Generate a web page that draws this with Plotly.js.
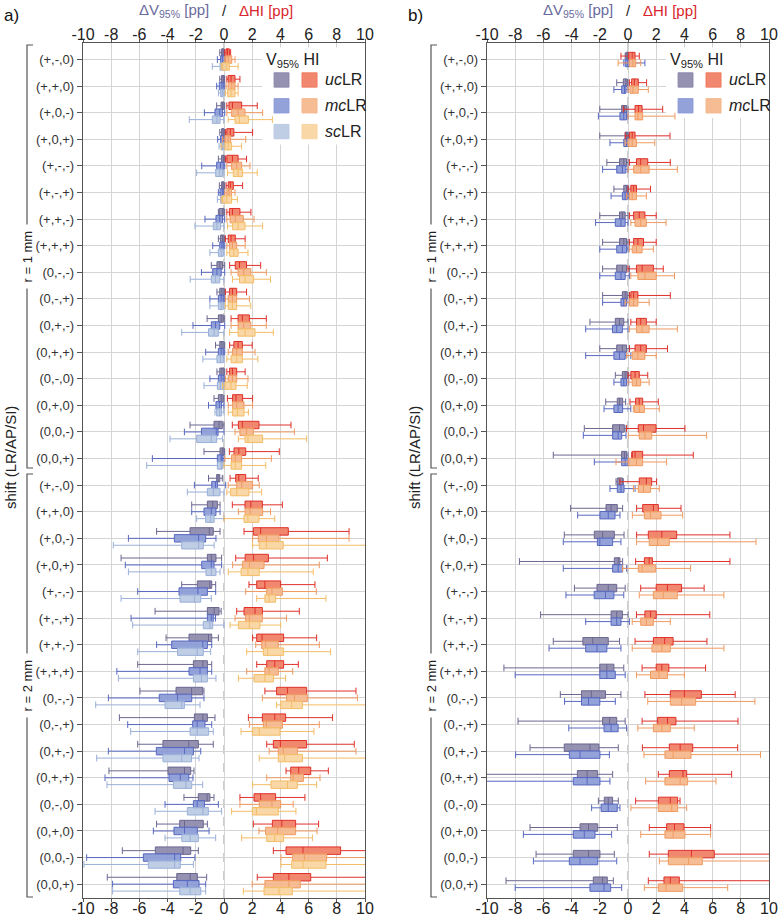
<!DOCTYPE html>
<html>
<head>
<meta charset="utf-8">
<script src="https://cdn.plot.ly/plotly-3.0.1.min.js"></script>
<style>
  body { margin: 0; background: #fff; }
  #chart { width: 778px; height: 917px; }
</style>
</head>
<body>
<div id="chart"></div>
<script>
// shift labels (LR/AP/SI), same 16 for r = 1 mm and r = 2 mm
var shiftsOne = ['(+,-,0)','(+,+,0)','(+,0,-)','(+,0,+)','(+,-,-)','(+,-,+)','(+,+,-)','(+,+,+)',
                 '(0,-,-)','(0,-,+)','(0,+,-)','(0,+,+)','(0,-,0)','(0,+,0)','(0,0,-)','(0,0,+)'];
var shifts = shiftsOne.concat(shiftsOne);
var xTicks = [-10, -8, -6, -4, -2, 0, 2, 4, 6, 8, 10];

// each row: [lower whisker, q1, median, q3, upper whisker]
// panel a) dV95 [pp]
var aVuc = [[-0.3,-0.17,-0.05,0,0.05],[-0.3,-0.17,-0.05,0.02,0.05],[-0.52,-0.21,-0.1,0,0.05],[-0.3,-0.17,-0.05,0,0.05],
  [-0.4,-0.17,-0.05,0.02,0.1],[-0.33,-0.17,-0.05,0,0.05],[-0.4,-0.33,-0.1,0,0.05],[-0.4,-0.25,-0.1,0,0.05],
  [-0.9,-0.5,-0.3,-0.1,0.05],[-0.5,-0.3,-0.15,0,0.05],[-1.2,-0.4,-0.2,-0.05,0.05],[-0.6,-0.3,-0.15,0,0.05],
  [-0.5,-0.3,-0.15,0,0.05],[-0.71,-0.4,-0.2,-0.05,0],[-2.41,-0.71,-0.35,-0.12,0],[-1.42,-0.28,-0.12,0,0.05],
  [-1.1,-0.52,-0.42,-0.3,-0.12],[-2.29,-1.18,-0.8,-0.47,-0.28],[-4.78,-2.41,-1.04,-0.76,-0.28],[-7.3,-1.18,-0.9,-0.57,-0.17],
  [-3.0,-1.89,-1.0,-0.87,-0.59],[-4.89,-1.18,-0.7,-0.35,-0.2],[-4.11,-2.48,-1.1,-0.87,-0.4],[-6.12,-2.17,-1.5,-1.18,-0.87],
  [-5.96,-3.4,-2.3,-1.51,-1.42],[-7.42,-2.1,-1.5,-1.18,-0.64],[-6.12,-4.33,-2.5,-1.82,-0.76],[-8.16,-3.97,-2.8,-2.36,-2.13],
  [-2.84,-1.82,-1.2,-1.0,-0.71],[-4.78,-3.14,-2.8,-1.47,-1.18],[-7.21,-4.87,-2.9,-2.36,-1.82],[-8.28,-3.35,-2.4,-1.89,-1.23]];
var aVmc = [[-0.47,-0.24,-0.1,0.05,0.1],[-0.52,-0.33,-0.15,-0.05,0.05],[-1.39,-0.64,-0.3,-0.1,0.05],[-0.45,-0.24,-0.1,-0.05,0.05],
  [-1.58,-0.52,-0.25,-0.05,0.05],[-0.4,-0.28,-0.1,-0.05,0.05],[-1.35,-0.57,-0.3,-0.1,0.05],[-0.8,-0.3,-0.15,-0.05,0.05],
  [-1.6,-0.8,-0.5,-0.2,0.05],[-1.0,-0.4,-0.2,-0.05,0.05],[-2.2,-0.9,-0.6,-0.3,0.05],[-1.3,-0.4,-0.2,-0.05,0.05],
  [-1.0,-0.4,-0.2,-0.05,0.05],[-1.1,-0.57,-0.33,-0.17,0],[-2.81,-1.6,-0.55,-0.42,0],[-5.08,-0.47,-0.2,-0.12,0],
  [-2.1,-0.87,-0.6,-0.47,0.12],[-2.29,-1.42,-0.9,-0.57,-0.28],[-6.78,-3.52,-1.8,-1.3,-0.57],[-7.0,-1.58,-0.9,-0.71,-0.17],
  [-6.12,-3.19,-1.85,-1.18,-0.59],[-6.59,-1.18,-0.9,-0.76,-0.6],[-4.78,-3.71,-1.5,-1.18,-0.87],[-7.6,-2.48,-1.7,-1.18,-0.87],
  [-8.2,-4.59,-3.3,-2.29,-1.42],[-6.83,-2.22,-1.9,-1.35,-0.87],[-8.2,-4.8,-2.8,-2.17,-1.65],[-8.44,-3.9,-3.1,-2.5,-2.2],
  [-4.18,-2.17,-1.9,-1.39,-0.4],[-5.01,-3.55,-2.8,-1.89,-1.06],[-9.74,-5.72,-3.5,-3.07,-2.06],[-7.9,-3.59,-2.6,-1.77,-1.3]];
var aVsc = [[-0.83,-0.28,-0.1,0,0.1],[-0.4,-0.24,-0.1,-0.05,0.05],[-2.46,-0.83,-0.5,-0.28,0],[-0.35,-0.2,-0.1,0,0.05],
  [-1.94,-0.59,-0.3,-0.1,0],[-0.47,-0.24,-0.1,0,0.05],[-2.06,-0.76,-0.5,-0.24,0],[-1.0,-0.4,-0.2,-0.05,0],
  [-2.4,-0.9,-0.6,-0.3,0],[-1.0,-0.4,-0.2,-0.05,0],[-3.0,-1.1,-0.7,-0.4,0],[-1.5,-0.5,-0.25,-0.05,0],
  [-1.42,-0.47,-0.25,-0.05,0],[-0.64,-0.52,-0.3,-0.17,0],[-3.83,-1.94,-0.9,-0.52,-0.1],[-5.48,-0.47,-0.2,-0.12,0],
  [-2.6,-1.18,-0.75,-0.28,0],[-1.94,-1.3,-0.95,-0.7,0],[-7.85,-3.0,-1.8,-1.47,-0.7],[-6.78,-1.28,-0.9,-0.57,-0.28],
  [-7.3,-3.12,-2.1,-1.65,-0.9],[-6.48,-1.47,-1.0,-0.8,0],[-6.12,-3.29,-1.9,-1.47,-0.95],[-7.49,-2.17,-1.6,-1.18,-0.57],
  [-9.1,-4.18,-3.0,-2.81,-1.7],[-6.62,-2.41,-1.9,-1.09,-0.76],[-9.03,-4.33,-3.0,-2.3,-1.77],[-8.3,-3.59,-2.7,-2.29,-1.51],
  [-4.89,-2.6,-1.5,-1.11,-0.17],[-4.18,-2.99,-2.4,-1.82,-0.59],[-9.93,-5.37,-3.5,-3.1,-2.17],[-7.9,-3.14,-2.4,-1.65,-1.3]];

// panel a) dHI [pp]
var aHuc = [[0.05,0.14,0.25,0.38,0.47],[0.2,0.3,0.5,0.78,1.13],[0.2,0.35,0.6,1.25,2.36],[0.1,0.2,0.45,0.7,2.03],
  [0.1,0.2,0.6,1.0,1.6],[0.15,0.3,0.45,0.66,1.32],[0.2,0.38,0.6,1.13,1.91],[0.1,0.3,0.5,0.8,1.5],
  [0.4,0.8,1.1,1.6,2.6],[0.1,0.4,0.6,0.9,1.6],[0.5,1.0,1.3,1.8,3.0],[0.4,0.7,1.0,1.3,2.0],
  [0.2,0.4,0.6,0.9,1.5],[0.24,0.61,0.85,1.32,2.03],[0.59,1.02,1.3,2.48,4.75],[0.38,0.71,1.05,1.54,3.92],
  [0.43,0.83,1.05,1.54,2.43],[0.59,1.49,1.9,2.72,4.14],[1.42,2.08,2.6,4.56,8.87],[0.83,1.5,2.1,3.15,7.33],
  [1.77,2.32,2.9,4.02,6.45],[0.9,1.42,2.2,2.72,5.34],[2.03,2.32,2.7,4.23,6.57],[2.32,3.03,3.6,4.23,5.27],
  [2.9,3.73,4.5,5.86,9.36],[1.73,2.72,3.6,4.37,7.7],[3.03,3.5,4.0,5.86,9.24],[4.4,4.73,5.3,6.15,7.4],
  [1.13,2.13,2.6,3.66,5.74],[2.08,3.43,4.1,5.08,6.71],[3.5,4.4,5.6,8.27,10.5],[2.36,3.5,4.6,6.15,10.5]];
var aHmc = [[0.05,0.12,0.3,0.55,0.78],[0.15,0.3,0.55,0.78,1.0],[0.2,0.54,1.0,1.49,2.74],[-0.1,0.07,0.3,0.47,1.54],
  [0.2,0.54,0.9,1.25,1.84],[0.05,0.2,0.35,0.54,0.78],[0.2,0.43,0.8,1.37,2.13],[0.2,0.4,0.6,0.9,1.5],
  [0.5,1.0,1.4,1.9,3.0],[0.1,0.3,0.6,0.9,1.8],[0.5,1.0,1.4,1.9,3.0],[0.3,0.6,0.9,1.3,2.2],
  [0.1,0.3,0.6,0.9,1.7],[0.3,0.61,0.9,1.42,2.03],[0.78,1.13,1.6,2.08,4.99],[0.07,0.54,0.8,1.25,3.36],
  [0.3,0.9,1.25,2.03,2.5],[1.02,1.5,1.85,2.74,3.3],[2.03,2.43,3.0,3.9,8.87],[0.61,1.32,1.8,2.84,6.76],
  [1.54,3.03,3.4,4.14,6.55],[0.78,1.54,1.8,2.72,4.44],[2.25,2.67,2.95,3.85,6.76],[1.61,2.9,3.2,3.85,4.87],
  [2.72,4.44,5.0,5.91,9.46],[1.8,2.79,3.0,4.14,6.76],[3.2,3.85,4.2,5.2,9.36],[3.03,4.73,4.9,5.63,6.81],
  [1.13,2.5,3.4,4.02,4.91],[2.48,2.95,3.8,5.08,6.6],[4.04,4.87,5.7,7.28,10.5],[2.0,2.9,4.6,5.41,10.5]];
var aHsc = [[-0.2,-0.1,0.2,0.38,1.0],[0.1,0.26,0.5,0.78,1.0],[0.3,0.78,1.1,1.73,3.43],[-0.2,0.07,0.3,0.54,1.25],
  [0.25,0.66,1.0,1.32,2.36],[-0.2,-0.1,0.2,0.54,0.95],[0.25,0.61,1.0,1.49,2.74],[0.2,0.4,0.7,1.0,1.7],
  [0.6,1.1,1.5,2.1,3.3],[0.1,0.3,0.6,0.9,1.9],[0.4,1.0,1.5,2.2,3.5],[0.2,0.5,0.9,1.3,2.4],
  [-0.1,0.07,0.5,0.85,1.65],[0.3,0.61,0.95,1.42,1.73],[1.02,1.49,1.7,2.74,5.86],[0,0.5,0.8,1.25,2.96],
  [0.2,0.47,0.9,1.77,2.67],[0,1.42,1.7,2.48,3.6],[2.03,2.5,3.0,4.2,10.5],[0.3,1.21,1.7,2.5,6.33],
  [2.32,2.9,3.2,3.66,7.23],[0.43,1.02,1.8,2.55,4.02],[1.61,2.79,3.1,4.23,7.56],[1.02,2.13,2.9,3.5,4.37],
  [3.73,4.02,4.8,5.56,10.5],[1.21,2.01,2.5,3.97,6.38],[2.5,3.85,4.3,5.56,10.5],[2.03,3.33,4.5,5.2,6.57],
  [0.54,2.01,2.3,3.85,5.1],[1.25,3.03,3.6,4.23,6.27],[4.04,4.8,5.6,7.23,10.5],[1.37,2.84,3.9,4.85,10.5]];

// panel b) dV95 [pp]
var bVuc = [[-0.2,-0.15,-0.05,0,0.05],[-0.8,-0.33,-0.15,-0.05,0],[-2.0,-0.45,-0.25,-0.1,0],[-2.0,-0.2,-0.1,0,0.05],
  [-1.5,-0.6,-0.3,-0.1,0],[-1.0,-0.3,-0.1,0,0.05],[-2.0,-0.6,-0.4,-0.2,0],[-1.8,-0.6,-0.3,-0.1,0],
  [-1.8,-0.8,-0.4,-0.1,0.1],[-1.8,-0.4,-0.2,-0.05,0.1],[-2.7,-0.9,-0.6,-0.3,0],[-2.0,-0.8,-0.4,-0.1,0.1],
  [-0.9,-0.4,-0.2,-0.05,0.05],[-1.58,-0.76,-0.6,-0.38,-0.17],[-3.1,-1.09,-0.6,-0.26,-0.14],[-5.3,-0.45,-0.25,-0.1,0],
  [-0.85,-0.76,-0.6,-0.38,-0.33],[-4.07,-1.56,-1.2,-0.76,-0.38],[-4.52,-2.39,-1.8,-0.97,-0.28],[-7.7,-0.97,-0.7,-0.57,-0.38],
  [-3.8,-2.2,-1.4,-0.8,-0.2],[-6.2,-1.2,-0.8,-0.4,0],[-5.3,-3.2,-2.5,-1.4,-0.6],[-8.8,-2.0,-1.5,-1.0,-0.3],
  [-4.8,-3.3,-2.6,-1.6,-0.5],[-7.8,-1.8,-1.3,-0.8,-0.2],[-6.95,-4.52,-2.7,-2.06,-0.69],[-10.5,-3.59,-2.9,-2.15,-1.09],
  [-2.1,-1.68,-1.4,-1.09,-0.69],[-6.95,-3.4,-2.8,-2.15,-0.76],[-6.52,-3.88,-2.8,-1.99,-0.97],[-8.65,-2.46,-1.8,-1.47,-1.04]];
var bVmc = [[-0.3,-0.2,-0.05,0.1,1.2],[-1.0,-0.45,-0.25,-0.14,0],[-2.1,-0.57,-0.3,-0.1,0],[-1.28,-0.3,-0.1,0.05,0.1],
  [-1.8,-0.8,-0.4,-0.15,0],[-1.2,-0.4,-0.2,-0.05,0.05],[-2.3,-0.9,-0.5,-0.2,0],[-2.0,-0.8,-0.4,-0.1,0],
  [-2.0,-0.9,-0.5,-0.2,0.1],[-1.8,-0.5,-0.3,-0.1,0.1],[-3.0,-1.1,-0.8,-0.4,0],[-3.0,-1.0,-0.6,-0.2,0.2],
  [-1.0,-0.5,-0.3,-0.1,0.05],[-1.7,-1.0,-0.7,-0.38,0.2],[-3.17,-1.09,-0.7,-0.45,-0.14],[-2.39,-0.45,-0.2,0.02,0.1],
  [-1.28,-0.76,-0.5,-0.28,0.5],[-3.57,-1.99,-1.4,-0.92,-0.57],[-4.59,-2.17,-2.0,-1.09,-0.5],[-4.59,-1.09,-0.7,-0.38,-0.1],
  [-4.4,-2.4,-1.6,-1.0,-0.3],[-3.0,-1.2,-0.8,-0.5,0.1],[-5.6,-3.0,-2.2,-1.5,-0.5],[-8.0,-2.0,-1.5,-0.9,-0.2],
  [-4.5,-3.3,-2.8,-2.0,-0.9],[-4.2,-1.7,-1.2,-0.7,-0.1],[-7.97,-4.16,-3.4,-1.99,-1.32],[-10.5,-3.88,-2.9,-1.99,-1.28],
  [-2.58,-1.91,-1.4,-0.76,-0.57],[-7.42,-3.88,-3.1,-2.34,-1.16],[-6.71,-4.16,-3.4,-2.15,-0.8],[-8.0,-2.7,-1.7,-1.23,-0.45]];

// panel b) dHI [pp]
var bHuc = [[-0.5,0.05,0.3,0.5,0.8],[0.1,0.26,0.45,0.73,1.32],[-0.33,0.5,0.75,1.0,2.46],[-0.2,0.1,0.3,0.5,2.98],
  [0.1,0.6,0.9,1.4,3.0],[0.0,0.2,0.4,0.6,1.6],[0.1,0.4,0.8,1.2,2.0],[0.1,0.4,0.7,1.1,2.0],
  [0.0,0.6,1.0,1.8,2.5],[0.1,0.2,0.4,0.7,3.0],[0.2,0.6,0.9,1.3,2.0],[0.1,0.5,0.9,1.3,2.8],
  [0.0,0.2,0.5,0.8,1.4],[0.14,0.54,0.8,1.04,2.15],[-0.1,0.73,1.1,1.99,4.04],[0.26,0.31,0.5,1.04,4.63],
  [-0.57,0.8,1.3,1.68,2.03],[0.61,1.04,1.8,2.15,3.76],[0.61,1.44,2.4,3.45,7.23],[0.54,1.16,1.5,1.73,7.23],
  [0.9,2.0,2.8,3.8,5.4],[0.6,1.2,1.6,2.0,5.8],[0.5,1.8,2.6,3.2,5.6],[1.0,2.0,2.4,2.9,5.5],
  [1.2,3.0,4.0,5.2,7.6],[1.0,2.1,2.8,3.4,7.8],[1.02,2.93,3.7,4.59,7.78],[2.15,2.93,3.9,4.16,7.35],
  [0.54,2.15,3.0,3.52,3.69],[1.51,2.74,3.3,3.97,5.86],[1.51,2.86,4.5,6.12,10.5],[1.44,2.55,3.0,3.64,10.5]];
var bHmc = [[-0.7,0.1,0.35,0.55,0.9],[0.0,0.14,0.35,0.73,1.44],[0.0,0.5,0.7,1.04,3.33],[-0.2,0.0,0.3,0.6,1.9],
  [0.0,0.4,0.9,1.5,3.5],[-0.1,0.1,0.3,0.6,1.3],[0.2,0.5,0.9,1.3,2.7],[0.1,0.3,0.6,1.0,1.8],
  [0.2,0.7,1.2,2.0,3.3],[-0.2,0.1,0.4,0.7,1.5],[0.1,0.6,1.0,1.5,3.5],[-0.1,0.3,0.7,1.2,2.0],
  [0.0,0.3,0.6,0.9,1.5],[0.38,0.45,0.8,1.16,2.22],[0.02,0.8,1.2,1.68,5.58],[-0.85,0.02,0.6,1.04,2.74],
  [0.38,0.73,1.1,1.6,2.22],[0.31,1.16,1.6,2.34,3.88],[0.61,1.51,2.1,2.93,9.08],[-0.38,0.73,1.0,1.96,4.44],
  [0.8,1.8,2.5,3.5,6.8],[0.3,0.9,1.3,1.8,3.0],[0.3,1.7,2.4,3.0,6.8],[0.6,1.6,2.2,2.8,4.0],
  [1.4,3.0,3.8,4.8,9.0],[0.7,1.8,2.4,3.0,4.7],[1.13,2.62,3.2,4.47,9.4],[1.25,2.62,3.7,4.23,6.24],
  [0.21,2.15,3.1,3.52,4.16],[0.9,2.62,3.2,4.04,5.86],[2.22,2.86,4.3,5.27,10.5],[1.16,2.15,2.7,3.88,7.07]];

// colours: [fill, line]
var cVuc = ['rgba(138,133,168,0.9)', '#6b6790'];
var cVmc = ['rgba(136,152,214,0.9)', '#5868c0'];
var cVsc = ['rgba(184,200,226,0.9)', '#9ab0d8'];
var cHuc = ['rgba(239,122,94,0.9)', '#e0302a'];
var cHmc = ['rgba(245,182,138,0.9)', '#f09a60'];
var cHsc = ['rgba(248,211,156,0.9)', '#f3bd66'];

var W = 778, H = 917;
function px(x) { return x / W; }
function py(y) { return 1 - y / H; }

function boxes(stats, offset, col, xa, ya) {
  return {
    type: 'box', orientation: 'h',
    y: stats.map(function(s, i) { return i + offset; }),
    lowerfence: stats.map(function(s) { return s[0]; }),
    q1: stats.map(function(s) { return s[1]; }),
    median: stats.map(function(s) { return s[2]; }),
    q3: stats.map(function(s) { return s[3]; }),
    upperfence: stats.map(function(s) { return s[4]; }),
    width: 0.28, whiskerwidth: 0.9,
    fillcolor: col[0], line: {color: col[1], width: 1},
    xaxis: xa, yaxis: ya, boxpoints: false,
    hoverinfo: 'skip', showlegend: false
  };
}

var data = [
  boxes(aVuc, -0.26, cVuc, 'x', 'y'),
  boxes(aVmc, 0, cVmc, 'x', 'y'),
  boxes(aVsc, 0.26, cVsc, 'x', 'y'),
  boxes(aHuc, -0.26, cHuc, 'x3', 'y'),
  boxes(aHmc, 0, cHmc, 'x3', 'y'),
  boxes(aHsc, 0.26, cHsc, 'x3', 'y'),
  boxes(bVuc, -0.13, cVuc, 'x2', 'y2'),
  boxes(bVmc, 0.13, cVmc, 'x2', 'y2'),
  boxes(bHuc, -0.13, cHuc, 'x4', 'y2'),
  boxes(bHmc, 0.13, cHmc, 'x4', 'y2')
];

var fnt = 'Liberation Sans, Arial, sans-serif';
var domA = [px(83), px(365)], domB = [px(487), px(769)];
var domY = [py(898), py(43)];
var yRange = [31.52, -0.62];
var rows = shifts.map(function(s, i) { return i; });
var tickTxt = xTicks.map(function(v) { return String(v); });

function xAxis(dom, anchor, extra) {
  var ax = {
    domain: dom, anchor: anchor, range: [-10, 10],
    tickvals: xTicks, ticktext: tickTxt, ticks: 'outside', ticklen: 3, tickcolor: '#555',
    ticklabelstandoff: -7,
    showgrid: true, gridcolor: '#d4d4d4', zeroline: false,
    showline: true, linecolor: '#555', linewidth: 1.2, mirror: true,
    tickfont: {size: 16, color: '#222'}
  };
  for (var k in extra) ax[k] = extra[k];
  return ax;
}
function yAxis(dom, anchor) {
  return {
    domain: domY, anchor: anchor, range: yRange,
    tickvals: rows, ticktext: shifts, ticks: 'outside', ticklen: 5, tickcolor: '#555',
    showgrid: true, gridcolor: '#d4d4d4', zeroline: false,
    showline: true, linecolor: '#555', linewidth: 1.2, mirror: true,
    tickfont: {size: 13, color: '#333'}
  };
}

var shapes = [], annotations = [];

function panel(xref, yref, letter, zeroPx, showSc) {
  // dashed zero line
  shapes.push({type: 'line', xref: xref, yref: 'paper', x0: 0, x1: 0, y0: domY[0], y1: domY[1],
    line: {color: '#999', width: 1, dash: 'dash'}, layer: 'between'});
  // white legend background
  shapes.push({type: 'rect', xref: xref, yref: yref, x0: 2.7, x1: 10, y0: -0.45, y1: showSc ? 3.2 : 2.2,
    fillcolor: '#fff', line: {width: 0}, layer: 'between'});
  var legRows = [[0.77, cVuc, cHuc, '<i>uc</i>LR'], [1.74, cVmc, cHmc, '<i>mc</i>LR']];
  if (showSc) legRows.push([2.71, cVsc, cHsc, '<i>sc</i>LR']);
  legRows.forEach(function(r) {
    shapes.push({type: 'rect', xref: xref, yref: yref, x0: 3.55, x1: 4.61, y0: r[0] - 0.27, y1: r[0] + 0.27,
      fillcolor: r[1][0], line: {color: r[1][0], width: 1}});
    shapes.push({type: 'rect', xref: xref, yref: yref, x0: 5.53, x1: 6.6, y0: r[0] - 0.27, y1: r[0] + 0.27,
      fillcolor: r[2][0], line: {color: r[2][0], width: 1}});
    annotations.push({xref: xref, yref: yref, x: 7.0, y: r[0], xanchor: 'left', yanchor: 'middle',
      text: r[3], showarrow: false, font: {size: 16, color: '#222'}});
  });
  annotations.push({xref: xref, yref: yref, x: 2.85, y: 0.05, xanchor: 'left', yanchor: 'middle',
    text: 'V<sub>95%</sub> HI', showarrow: false, font: {size: 16, color: '#222'}});

  // top title
  annotations.push({xref: 'paper', yref: 'paper', x: px(zeroPx - 13), y: py(11), xanchor: 'right', yanchor: 'middle',
    text: '\u0394V<sub>95%</sub> [pp]', showarrow: false, font: {size: 15, color: '#6a6a9e'}});
  annotations.push({xref: 'paper', yref: 'paper', x: px(zeroPx), y: py(11), xanchor: 'center', yanchor: 'middle',
    text: '/', showarrow: false, font: {size: 15, color: '#222'}});
  annotations.push({xref: 'paper', yref: 'paper', x: px(zeroPx + 13), y: py(11), xanchor: 'left', yanchor: 'middle',
    text: '\u0394HI [pp]', showarrow: false, font: {size: 15, color: '#d8262c'}});

  // panel letter
  annotations.push({xref: 'paper', yref: 'paper', x: px(zeroPx - 222), y: py(16), xanchor: 'left', yanchor: 'middle',
    text: letter, showarrow: false, font: {size: 17, color: '#111'}});

  // y title and r brackets (line broken around the label)
  var bx = zeroPx - 197;
  annotations.push({xref: 'paper', yref: 'paper', x: px(bx - 17), y: py(458), textangle: -90,
    xanchor: 'center', yanchor: 'middle',
    text: 'shift (LR/AP/SI)', showarrow: false, font: {size: 15, color: '#222'}});
  [[45, 468, 'r = 1 mm'], [474, 897, 'r = 2 mm']].forEach(function(b) {
    var mid = (b[0] + b[1]) / 2;
    shapes.push({type: 'path', xref: 'paper', yref: 'paper',
      path: 'M ' + px(bx + 6) + ' ' + py(b[0]) + ' L ' + px(bx) + ' ' + py(b[0]) + ' L ' + px(bx) + ' ' + py(mid - 32),
      line: {color: '#555', width: 1.2}});
    shapes.push({type: 'path', xref: 'paper', yref: 'paper',
      path: 'M ' + px(bx) + ' ' + py(mid + 32) + ' L ' + px(bx) + ' ' + py(b[1]) + ' L ' + px(bx + 6) + ' ' + py(b[1]),
      line: {color: '#555', width: 1.2}});
    annotations.push({xref: 'paper', yref: 'paper', x: px(bx), y: py(mid), textangle: -90,
      xanchor: 'center', yanchor: 'middle',
      text: b[2], showarrow: false, font: {size: 13, color: '#222'}});
  });
}

panel('x', 'y', 'a)', 224, true);
panel('x2', 'y2', 'b)', 628, false);

var layout = {
  width: W, height: H,
  margin: {l: 0, r: 0, t: 0, b: 0},
  paper_bgcolor: '#fff', plot_bgcolor: '#fff',
  font: {family: fnt, color: '#222'},
  boxmode: 'overlay',
  showlegend: false,
  xaxis: xAxis(domA, 'y', {}),
  xaxis3: xAxis(domA, 'y', {overlaying: 'x', side: 'top', showgrid: false, mirror: false, ticklabelstandoff: -8}),
  yaxis: yAxis(domY, 'x'),
  xaxis2: xAxis(domB, 'y2', {}),
  xaxis4: xAxis(domB, 'y2', {overlaying: 'x2', side: 'top', showgrid: false, mirror: false, ticklabelstandoff: -8}),
  yaxis2: yAxis(domY, 'x2'),
  shapes: shapes,
  annotations: annotations
};

Plotly.newPlot('chart', data, layout, {displayModeBar: false, staticPlot: true});
</script>
</body>
</html>
